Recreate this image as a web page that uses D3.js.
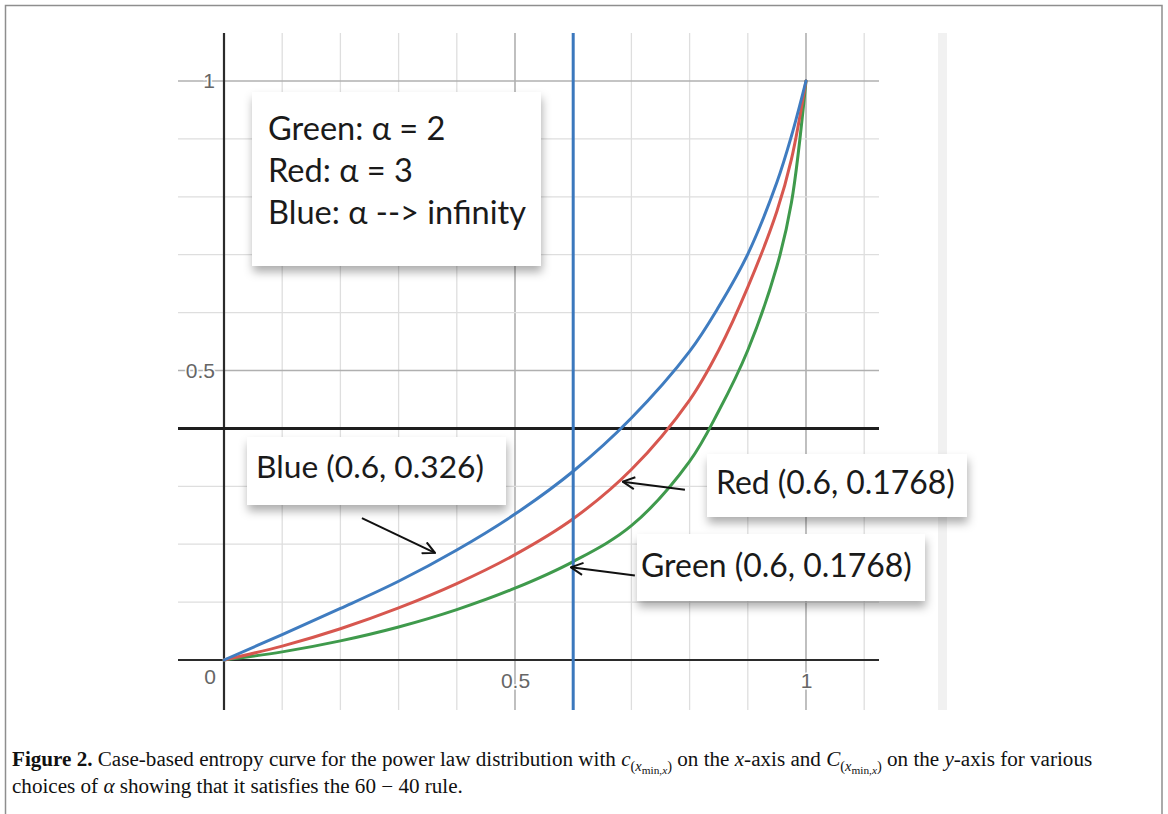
<!DOCTYPE html>
<html lang="en">
<head>
<meta charset="UTF-8">
<title>Case-based entropy curve</title>
<script src="https://d3js.org/d3.v7.min.js"></script>
<style>
  html, body { margin: 0; padding: 0; background: #fff; }
  svg { display: block; }
</style>
</head>
<body>
<svg width="1168" height="814"></svg>
<script>
// values
const xVals     = [0, 0.1,   0.2,   0.3,   0.4,   0.5,   0.6,   0.7,   0.8,   0.85,  0.9,   0.95,  0.975, 1];
const blueVals  = [0, 0.044, 0.089, 0.136, 0.190, 0.252, 0.326, 0.418, 0.533, 0.61,  0.701, 0.825, 0.905, 1];
const redVals   = [0, 0.024, 0.054, 0.09,  0.132, 0.182, 0.244, 0.329, 0.449, 0.535, 0.644, 0.775, 0.865, 1];
const greenVals = [0, 0.014, 0.033, 0.057, 0.087, 0.124, 0.170, 0.232, 0.343, 0.43,  0.535, 0.68,  0.79,  1];

const legendLines = ["Green: α = 2", "Red: α = 3", "Blue: α --> infinity"];
const xTickLabels = [0.5, 1];
const yTickLabels = [0.5, 1];
const hLine = 0.4;   // the 60-40 line
const vLine = 0.6;

// annotations: label text, arrow tail / head in data units
const notes = [
  { text: "Blue (0.6, 0.326)",   tail: [0.237, 0.245], head: [0.3625, 0.185] },
  { text: "Red (0.6, 0.1768)",   tail: [0.792, 0.294], head: [0.685, 0.308] },
  { text: "Green (0.6, 0.1768)", tail: [0.706, 0.146], head: [0.596, 0.160] }
];

const svg = d3.select("svg");

const x = d3.scaleLinear().domain([0, 1]).range([224, 806]);
const y = d3.scaleLinear().domain([0, 1]).range([660, 81]);
// visible window of the graph
const xMin = x.invert(178), xMax = x.invert(879);
const yMin = y.invert(710), yMax = y.invert(33);

const defs = svg.append("defs");
defs.append("filter").attr("id", "shadow")
    .attr("x", "-10%").attr("y", "-20%").attr("width", "125%").attr("height", "160%")
  .append("feDropShadow")
    .attr("dx", 1).attr("dy", 6).attr("stdDeviation", 5)
    .attr("flood-color", "#000").attr("flood-opacity", 0.32);
defs.append("marker")
    .attr("id", "open")
    .attr("viewBox", "0 0 14 14")
    .attr("refX", 13).attr("refY", 7)
    .attr("markerWidth", 14).attr("markerHeight", 14)
    .attr("markerUnits", "userSpaceOnUse")
    .attr("orient", "auto")
  .append("path")
    .attr("d", "M1,1 L13,7 L1,13")
    .attr("fill", "none").attr("stroke", "#111").attr("stroke-width", 2);

// outer frame
svg.append("rect")
    .attr("x", 5.5).attr("y", 5.5).attr("width", 1156.5).attr("height", 840)
    .attr("fill", "none").attr("stroke", "#8e8e8e").attr("stroke-width", 1.5);

// grey strip at the right of the graph
svg.append("rect")
    .attr("x", 938).attr("y", y(yMax)).attr("width", 9).attr("height", y(yMin) - y(yMax))
    .attr("fill", "#f1f1f1");

// grid
const grid = svg.append("g");
const vGrid = d3.range(1, 12).map(d => d / 10);
const hGrid = d3.range(1, 11).map(d => d / 10);
const isMajor = d => Math.abs(d * 2 - Math.round(d * 2)) < 1e-9;
grid.selectAll(".vg").data(vGrid).join("line")
    .attr("x1", d => x(d)).attr("x2", d => x(d))
    .attr("y1", y(yMax)).attr("y2", y(yMin))
    .attr("stroke", d => isMajor(d) ? "#b0b0b0" : "#dedede")
    .attr("stroke-width", d => isMajor(d) ? 1.6 : 1.3);
grid.selectAll(".hg").data(hGrid).join("line")
    .attr("y1", d => y(d)).attr("y2", d => y(d))
    .attr("x1", x(xMin)).attr("x2", x(xMax))
    .attr("stroke", d => isMajor(d) ? "#b0b0b0" : "#dedede")
    .attr("stroke-width", d => isMajor(d) ? 1.6 : 1.3);

// axes
svg.append("line")
    .attr("x1", x(xMin)).attr("x2", x(xMax)).attr("y1", y(0)).attr("y2", y(0))
    .attr("stroke", "#2b2b2b").attr("stroke-width", 2.2);
svg.append("line")
    .attr("x1", x(0)).attr("x2", x(0)).attr("y1", y(yMax)).attr("y2", y(yMin))
    .attr("stroke", "#2b2b2b").attr("stroke-width", 2.2);

// tick labels
const tickFont = "'Liberation Sans', Arial, sans-serif";
const fmt = d => d3.format("~g")(d);
const xAxis = svg.append("g")
    .attr("transform", `translate(0,${y(0)})`)
    .call(d3.axisBottom(x).tickValues(xTickLabels).tickSize(0).tickPadding(13).tickFormat(fmt));
const yAxis = svg.append("g")
    .attr("transform", `translate(${x(0) - 9},0)`)
    .call(d3.axisLeft(y).tickValues(yTickLabels).tickSize(0).tickPadding(0).tickFormat(fmt));
[xAxis, yAxis].forEach(g => {
  g.select(".domain").remove();
  g.attr("font-size", 21).attr("font-family", tickFont);
  g.selectAll("text")
      .attr("fill", "#666")
      .attr("stroke", "#fff").attr("stroke-width", 3)
      .attr("paint-order", "stroke");
});
svg.append("text")
    .attr("x", x(0) - 14).attr("y", y(0) + 24)
    .attr("text-anchor", "middle")
    .attr("font-family", tickFont)
    .attr("font-size", 21).attr("fill", "#666")
    .text("0");

// 60-40 reference line
svg.append("line")
    .attr("x1", x(xMin)).attr("x2", x(xMax)).attr("y1", y(hLine)).attr("y2", y(hLine))
    .attr("stroke", "#1e1e1e").attr("stroke-width", 3);

// curves
const series = [
  { name: "green", values: greenVals, color: "#3f9a4c" },
  { name: "red",   values: redVals,   color: "#d7574f" },
  { name: "blue",  values: blueVals,  color: "#3f7cc0" }
];
const line = d3.line()
    .x((d, i) => x(xVals[i]))
    .y(d => y(d))
    .curve(d3.curveCatmullRom.alpha(0.5));
svg.append("g").selectAll("path").data(series).join("path")
    .attr("d", d => line(d.values))
    .attr("fill", "none")
    .attr("stroke", d => d.color)
    .attr("stroke-width", 3)
    .attr("stroke-linecap", "round");

svg.append("line")
    .attr("x1", x(vLine)).attr("x2", x(vLine)).attr("y1", y(yMax)).attr("y2", y(yMin))
    .attr("stroke", "#3b78bd").attr("stroke-width", 3);

// annotation boxes
const labelFont = "Lato, 'Open Sans', sans-serif";

function fitText(sel, width) {
  sel.attr("font-size", 30);
  const w = sel.node().getComputedTextLength();
  sel.attr("font-size", 30 * width / w);
}

// legend
const legend = svg.append("g");
legend.append("rect")
    .attr("x", 252).attr("y", 92).attr("width", 289).attr("height", 174)
    .attr("fill", "#fff").attr("filter", "url(#shadow)");
const legendText = legend.selectAll("text").data(legendLines).join("text")
    .attr("x", 268)
    .attr("y", (d, i) => 140 + i * 42)
    .attr("font-family", labelFont)
    .attr("fill", "#1a1a1a")
    .text(d => d);
fitText(legendText.filter((d, i) => i === 2), 258);
legendText.attr("font-size", legendText.filter((d, i) => i === 2).attr("font-size"));

const boxes = [
  { x: 247, y: 437, w: 259, h: 68, tx: 256, ty: 478, tw: 228 },
  { x: 707, y: 454, w: 260, h: 63, tx: 716, ty: 494, tw: 239 },
  { x: 637, y: 534, w: 288, h: 67, tx: 641, ty: 577, tw: 271 }
];
notes.forEach((n, i) => {
  const b = boxes[i];
  const g = svg.append("g");
  g.append("rect")
      .attr("x", b.x).attr("y", b.y).attr("width", b.w).attr("height", b.h)
      .attr("fill", "#fff").attr("filter", "url(#shadow)");
  const t = g.append("text")
      .attr("x", b.tx).attr("y", b.ty)
      .attr("font-family", labelFont)
      .attr("fill", "#1a1a1a")
      .text(n.text);
  fitText(t, b.tw);
  svg.append("line")
      .attr("x1", x(n.tail[0])).attr("y1", y(n.tail[1]))
      .attr("x2", x(n.head[0])).attr("y2", y(n.head[1]))
      .attr("stroke", "#111").attr("stroke-width", 2)
      .attr("marker-end", "url(#open)");
});

// caption
const cap = svg.append("g")
    .attr("font-family", "'Liberation Serif', 'Times New Roman', serif")
    .attr("fill", "#111");
const l1 = cap.append("text").attr("x", 12).attr("y", 766).attr("font-size", 20.5);
l1.append("tspan").attr("font-weight", "bold").text("Figure 2.");
l1.append("tspan").text(" Case-based entropy curve for the power law distribution with ");
function subLabel(t, letter) {
  t.append("tspan").attr("font-style", "italic").text(letter);
  t.append("tspan").attr("font-size", 14).attr("dy", 5).text("(");
  t.append("tspan").attr("font-size", 14).attr("font-style", "italic").text("x");
  t.append("tspan").attr("font-size", 11).attr("dy", 3).text("min,");
  t.append("tspan").attr("font-size", 11).attr("font-style", "italic").text("x");
  t.append("tspan").attr("font-size", 14).attr("dy", -3).text(")");
  t.append("tspan").attr("dy", -5).text(" ");
}
subLabel(l1, "c");
l1.append("tspan").text("on the ");
l1.append("tspan").attr("font-style", "italic").text("x");
l1.append("tspan").text("-axis and ");
subLabel(l1, "C");
l1.append("tspan").text("on the ");
l1.append("tspan").attr("font-style", "italic").text("y");
l1.append("tspan").text("-axis for various");

const l2 = cap.append("text").attr("x", 12).attr("y", 793).attr("font-size", 20.5);
l2.append("tspan").text("choices of ");
l2.append("tspan").attr("font-style", "italic").text("α");
l2.append("tspan").text(" showing that it satisfies the 60 \u2212 40 rule.");

// squeeze caption horizontally to the printed width
const w1 = l1.node().getComputedTextLength();
const sx = 1081 / w1;
cap.attr("transform", `translate(12,0) scale(${sx},1) translate(-12,0)`);
</script>
</body>
</html>
